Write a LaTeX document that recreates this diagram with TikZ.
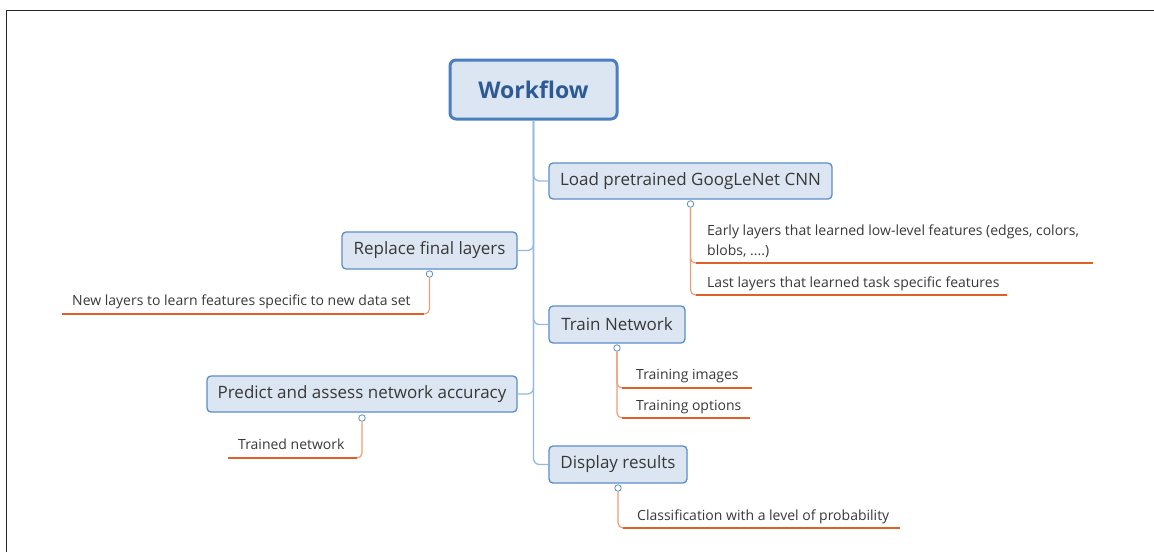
\documentclass[tikz,border=0pt]{standalone}
\usepackage{fontspec}
\setmainfont{Open Sans}
\definecolor{boxfill}{HTML}{DCE6F2}
\definecolor{boxline}{HTML}{5B8EC8}
\definecolor{wfline}{HTML}{4A7EBF}
\definecolor{trunkc}{HTML}{94B8DF}
\definecolor{uline}{HTML}{E0602A}
\definecolor{othin}{HTML}{EE9E74}
\definecolor{txt}{HTML}{383838}
\definecolor{wftxt}{HTML}{2E5A94}
\begin{document}
\begin{tikzpicture}[x=1pt,y=-1pt,
  topic/.style={draw=boxline, line width=1.3pt, fill=boxfill, rounded corners=4pt,
    inner sep=0pt, text=txt, font=\fontsize{17}{20}\selectfont},
  root/.style={draw=wfline, line width=3pt, fill=boxfill, rounded corners=6pt,
    inner sep=0pt, text=wftxt, font=\fontsize{23}{26}\selectfont\bfseries},
  conn/.style={draw=trunkc, line width=1.3pt, rounded corners=6pt},
  marker/.style={circle, draw=boxline, fill=white, line width=0.8pt, inner sep=0pt, minimum size=6.5pt},
  othinl/.style={draw=othin, line width=1.2pt, rounded corners=5pt},
  ul/.style={draw=uline, line width=2.8pt},
  sub/.style={anchor=base west, inner sep=0pt, text=txt, font=\fontsize{14}{20}\selectfont, align=left},
]
\useasboundingbox (0,0) rectangle (1154,552);
% frame
\draw[line width=1.5pt, color=black!85] (6.5,552) -- (6.5,10.5) -- (1154,10.5);

% topic boxes
\node[root, minimum width=167pt, minimum height=59pt] (wf) at (533.5,89.5) {Workflow};
\node[topic, minimum width=283pt, minimum height=36pt] (load) at (690.5,181) {Load pretrained GoogLeNet CNN};
\node[topic, minimum width=175pt, minimum height=37pt] (repl) at (429.5,250.5) {Replace final layers};
\node[topic, minimum width=136pt, minimum height=37pt] (train) at (617,324.5) {Train Network};
\node[topic, minimum width=310pt, minimum height=36pt] (pred) at (362,394) {Predict and assess network accuracy};
\node[topic, minimum width=138pt, minimum height=37pt] (disp) at (618,464.5) {Display results};

% trunk connectors
\draw[conn] (wf.south) |- (disp.west);
\draw[conn] (wf.south) |- (load.west);
\draw[conn] (wf.south) |- (train.west);
\draw[conn] (repl.east) -| (wf.south);
\draw[conn] (pred.east) -| (wf.south);

% markers
\node[marker] (mload) at (690.5,204) {};
\node[marker] (mrepl) at (429.5,274) {};
\node[marker] (mtrain) at (617,348) {};
\node[marker] (mpred) at (362,418) {};
\node[marker] (mdisp) at (618,488) {};

% Load subtopics
\node[sub] (early) at (707,255) {Early layers that learned low-level features (edges, colors,\\blobs, ....)};
\node[sub] (last) at (707,287) {Last layers that learned task specific features};
\coordinate (e1s) at (696,263); \coordinate (e1e) at (1093,263);
\coordinate (e2s) at (696,295); \coordinate (e2e) at (1007,295);
\draw[othinl] (mload.south) |- (e2e);
\draw[othinl] (mload.south) |- (e1e);
\draw[ul] (e1s) -- (e1e);
\draw[ul] (e2s) -- (e2e);

% Replace subtopic
\node[sub] (newl) at (72,305) {New layers to learn features specific to new data set};
\coordinate (n1s) at (424,314); \coordinate (n1e) at (62,314);
\draw[othinl] (mrepl.south) |- (n1e);
\draw[ul] (n1s) -- (n1e);

% Train subtopics
\node[sub] (timg) at (636,379) {Training images};
\node[sub] (topt) at (636,410) {Training options};
\coordinate (t1s) at (622,388); \coordinate (t1e) at (752,388);
\coordinate (t2s) at (622,418); \coordinate (t2e) at (750,418);
\draw[othinl] (mtrain.south) |- (t2e);
\draw[othinl] (mtrain.south) |- (t1e);
\draw[ul] (t1s) -- (t1e);
\draw[ul] (t2s) -- (t2e);

% Predict subtopic
\node[sub] (tnet) at (238,449) {Trained network};
\coordinate (p1s) at (357,458); \coordinate (p1e) at (228,458);
\draw[othinl] (mpred.south) |- (p1e);
\draw[ul] (p1s) -- (p1e);

% Display subtopic
\node[sub] (cls) at (637,520) {Classification with a level of probability};
\coordinate (d1s) at (623,528); \coordinate (d1e) at (900,528);
\draw[othinl] (mdisp.south) |- (d1e);
\draw[ul] (d1s) -- (d1e);
\end{tikzpicture}
\end{document}
